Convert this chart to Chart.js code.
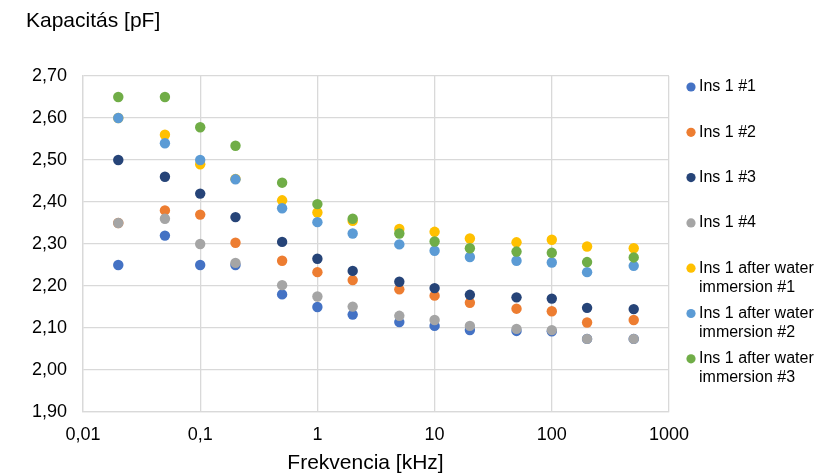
<!DOCTYPE html>
<html>
<head>
<meta charset="utf-8">
<script src="https://cdn.jsdelivr.net/npm/chart.js@4/dist/chart.umd.min.js"></script>
<style>
  html, body { margin: 0; padding: 0; background: #ffffff; }
  #wrap { position: relative; width: 820px; height: 475px; }
</style>
</head>
<body>
<div id="wrap"><canvas id="c" width="820" height="475"></canvas></div>
<script>
// ---- data ----
const frequencies = [0.02, 0.05, 0.1, 0.2, 0.5, 1, 2, 5, 10, 20, 50, 100, 200, 500];
const ins1_1 = [2.25, 2.32, 2.25, 2.25, 2.18, 2.15, 2.132, 2.114, 2.105, 2.095, 2.093, 2.092, 2.074, 2.074];
const ins1_2 = [2.35, 2.38, 2.37, 2.303, 2.26, 2.233, 2.214, 2.192, 2.177, 2.16, 2.146, 2.14, 2.113, 2.119];
const ins1_3 = [2.50, 2.46, 2.42, 2.364, 2.305, 2.265, 2.236, 2.21, 2.195, 2.179, 2.173, 2.17, 2.148, 2.145];
const ins1_4 = [2.35, 2.36, 2.30, 2.255, 2.202, 2.175, 2.151, 2.129, 2.119, 2.105, 2.098, 2.095, 2.074, 2.074];
const water_1 = [2.60, 2.56, 2.49, 2.455, 2.404, 2.375, 2.355, 2.336, 2.329, 2.313, 2.304, 2.31, 2.294, 2.29];
const water_2 = [2.60, 2.54, 2.50, 2.454, 2.385, 2.352, 2.325, 2.299, 2.284, 2.269, 2.26, 2.256, 2.233, 2.248];
const water_3 = [2.65, 2.65, 2.578, 2.534, 2.446, 2.395, 2.36, 2.325, 2.306, 2.29, 2.282, 2.279, 2.257, 2.268];
const seriesNames = ['Ins 1 #1', 'Ins 1 #2', 'Ins 1 #3', 'Ins 1 #4',
  'Ins 1 after water\nimmersion #1', 'Ins 1 after water\nimmersion #2', 'Ins 1 after water\nimmersion #3'];
const xTickValues = [0.01, 0.1, 1, 10, 100, 1000];
const xTickLabels = ['0,01', '0,1', '1', '10', '100', '1000'];
const yAxisTitle = 'Kapacitás [pF]';
const xAxisTitle = 'Frekvencia [kHz]';

// ---- styles ----
const seriesValues = [ins1_1, ins1_2, ins1_3, ins1_4, water_1, water_2, water_3];
const colors = ['#4472C4', '#ED7D31', '#264478', '#A5A5A5', '#FFC000', '#5B9BD5', '#70AD47'];
const FONT = '"Liberation Sans", Arial, sans-serif';
const GRID = '#D9D9D9';

const datasets = seriesValues.map((vals, i) => ({
  label: seriesNames[i],
  data: frequencies.map((f, j) => ({ x: f, y: vals[j] })),
  backgroundColor: colors[i],
  borderColor: colors[i],
  pointRadius: 5.2,
  pointBorderWidth: 0,
  showLine: false,
  order: seriesValues.length - i
}));

const overlay = {
  id: 'overlay',
  afterDraw(chart) {
    const ctx = chart.ctx;
    ctx.save();
    ctx.fillStyle = '#000000';
    ctx.font = '21px ' + FONT;
    ctx.textAlign = 'left';
    ctx.textBaseline = 'alphabetic';
    ctx.fillText(yAxisTitle, 26, 27);

    // x axis title (centred a little left of the plot centre, as in the original)
    ctx.textAlign = 'center';
    const xc = (chart.chartArea.left + chart.chartArea.right) / 2 - 10.5;
    ctx.fillText(xAxisTitle, xc, 469);

    // legend
    const x0 = 691, tx = 699, y0 = 87, step = 45.3, lh = 19;
    ctx.font = '16px ' + FONT;
    ctx.textAlign = 'left';
    ctx.textBaseline = 'middle';
    chart.data.datasets.forEach((ds, i) => {
      const y = y0 + i * step;
      ctx.fillStyle = ds.backgroundColor;
      ctx.beginPath();
      ctx.arc(x0, y, 4.6, 0, Math.PI * 2);
      ctx.fill();
      ctx.fillStyle = '#000000';
      ds.label.split('\n').forEach((line, k) => ctx.fillText(line, tx, y + k * lh));
    });
    ctx.restore();
  }
};

new Chart(document.getElementById('c'), {
  type: 'scatter',
  data: { datasets },
  options: {
    responsive: false,
    animation: false,
    devicePixelRatio: 1,
    layout: { padding: { top: 76, right: 151, bottom: 0, left: 0 } },
    plugins: { legend: { display: false }, tooltip: { enabled: false }, title: { display: false } },
    scales: {
      x: {
        type: 'logarithmic',
        min: 0.01,
        max: 1000,
        afterBuildTicks: (s) => { s.ticks = xTickValues.map(v => ({ value: v })); },
        afterFit: (s) => { s.height = 63; },
        ticks: {
          color: '#000000',
          font: { family: FONT, size: 18 },
          padding: 12,
          maxRotation: 0,
          autoSkip: false,
          callback: (v, i) => xTickLabels[i]
        },
        grid: { color: GRID, lineWidth: 1.3, drawTicks: false },
        border: { color: GRID, width: 1.3 },
        title: { display: false }
      },
      y: {
        min: 1.9,
        max: 2.7,
        afterFit: (s) => { s.width = 83; },
        ticks: {
          stepSize: 0.1,
          color: '#000000',
          font: { family: FONT, size: 18 },
          padding: 16,
          callback: (v) => v.toFixed(2).replace('.', ',')
        },
        grid: { color: GRID, lineWidth: 1.3, drawTicks: false },
        border: { color: GRID, width: 1.3 }
      }
    }
  },
  plugins: [overlay]
});
</script>
</body>
</html>
